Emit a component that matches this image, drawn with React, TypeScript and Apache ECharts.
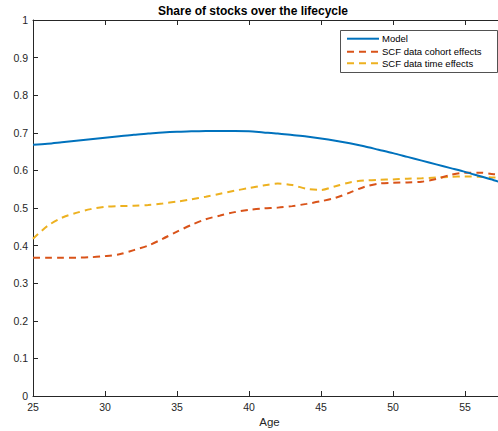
import React, { useEffect, useRef } from "react";
import * as echarts from "echarts";

const ages = [25,26,27,28,29,30,31,32,33,34,35,36,37,38,39,40,41,42,43,44,45,46,47,48,49,50,51,52,53,54,55,56,57,58];
const modelShare = [0.668,0.671,0.675,0.679,0.683,0.687,0.691,0.695,0.698,0.701,0.703,0.704,0.705,0.705,0.705,0.704,0.701,0.698,0.694,0.690,0.685,0.679,0.672,0.664,0.655,0.646,0.636,0.626,0.616,0.606,0.596,0.585,0.574,0.562];
const cohortShare = [0.368,0.368,0.368,0.368,0.369,0.372,0.377,0.388,0.400,0.418,0.437,0.455,0.470,0.480,0.489,0.495,0.499,0.501,0.505,0.511,0.518,0.527,0.541,0.556,0.565,0.567,0.568,0.570,0.577,0.588,0.594,0.594,0.590,0.588];
const timeShare = [0.418,0.452,0.474,0.487,0.497,0.503,0.505,0.506,0.508,0.512,0.517,0.523,0.530,0.538,0.546,0.553,0.560,0.565,0.561,0.551,0.548,0.558,0.568,0.573,0.575,0.576,0.578,0.579,0.581,0.583,0.584,0.583,0.581,0.580];
const seriesNames = ["Model", "SCF data cohort effects", "SCF data time effects"];
const seriesColors = ["#0072BD", "#D95319", "#EDB120"];
const xTickLabels = ["25", "30", "35", "40", "45", "50", "55"];
const titleText = "Share of stocks over the lifecycle";
const xLabel = "Age";

const FONT = "'Liberation Sans', Arial, Helvetica, sans-serif";
const AXIS = "#262626";

export default function App() {
  const ref = useRef<HTMLDivElement>(null);
  useEffect(() => {
    if (!ref.current) return;
    const chart = echarts.init(ref.current, undefined, { renderer: "svg" });
    const pairs = (ys: number[]) => ages.map((a, i) => [a, ys[i]]);
    const xCommon = {
      type: "value" as const,
      min: 25,
      max: 60,
      interval: 5,
      splitLine: { show: false },
      axisLine: { show: true, onZero: false, lineStyle: { color: AXIS, width: 1 } },
      axisTick: { show: true, inside: true, length: 5, lineStyle: { color: AXIS } },
    };
    const legendY = [38.7, 51.7, 63.3];
    const legendGraphics: any[] = [
      {
        type: "rect",
        shape: { x: 340.5, y: 30.5, width: 157, height: 42 },
        style: { fill: "#fff", stroke: AXIS, lineWidth: 0.8 },
        z: 100,
      },
    ];
    seriesNames.forEach((n, i) => {
      legendGraphics.push({
        type: "line",
        shape: { x1: 347, y1: legendY[i], x2: 379, y2: legendY[i] },
        style: { stroke: seriesColors[i], lineWidth: 2, lineDash: i === 0 ? null : [7, 5] },
        z: 101,
      });
      legendGraphics.push({
        type: "text",
        x: 382,
        y: legendY[i],
        style: { text: n, fill: "#000", font: `9.5px ${FONT}`, textVerticalAlign: "middle" },
        z: 101,
      });
    });
    chart.setOption({
      animation: false,
      backgroundColor: "#fff",
      grid: { left: 33, right: 3, top: 20, bottom: 35, containLabel: false },
      xAxis: [
        {
          ...xCommon,
          position: "bottom",
          axisLabel: {
            show: true,
            color: AXIS,
            fontSize: 10.5,
            fontFamily: FONT,
            margin: 5,
            formatter: (v: number) => (xTickLabels.includes(String(v)) ? String(v) : ""),
          },
        },
        {
          ...xCommon,
          position: "top",
          axisLabel: { show: false },
        },
      ],
      yAxis: {
        type: "value",
        min: 0,
        max: 1,
        interval: 0.1,
        splitLine: { show: false },
        axisLine: { show: true, lineStyle: { color: AXIS, width: 1 } },
        axisTick: { show: true, inside: true, length: 5, lineStyle: { color: AXIS } },
        axisLabel: { color: AXIS, fontSize: 10.5, fontFamily: FONT, margin: 5 },
      },
      series: [
        { name: seriesNames[0], data: pairs(modelShare), color: seriesColors[0] },
        { name: seriesNames[1], data: pairs(cohortShare), color: seriesColors[1] },
        { name: seriesNames[2], data: pairs(timeShare), color: seriesColors[2] },
      ].map((s, i) => ({
        ...s,
        type: "line",
        xAxisIndex: 0,
        showSymbol: false,
        symbol: "none",
        smooth: 0.3,
        lineStyle: { color: seriesColors[i], width: 2, type: i === 0 ? "solid" : [7, 5] },
        z: 3 - i,
      })),
      graphic: [
        {
          type: "text",
          x: 253,
          y: 11,
          style: {
            text: titleText,
            fill: "#000",
            font: `bold 12px ${FONT}`,
            textAlign: "center",
            textVerticalAlign: "middle",
          },
        },
        {
          type: "text",
          x: 269.5,
          y: 421.5,
          style: {
            text: xLabel,
            fill: AXIS,
            font: `11.5px ${FONT}`,
            textAlign: "center",
            textVerticalAlign: "middle",
          },
        },
        ...legendGraphics,
      ],
    });
    return () => chart.dispose();
  }, []);
  return (
    <div style={{ position: "fixed", left: 0, top: 0, width: 498, height: 431, overflow: "hidden", background: "#fff" }}>
      <div ref={ref} style={{ width: 540, height: 431 }} />
    </div>
  );
}
